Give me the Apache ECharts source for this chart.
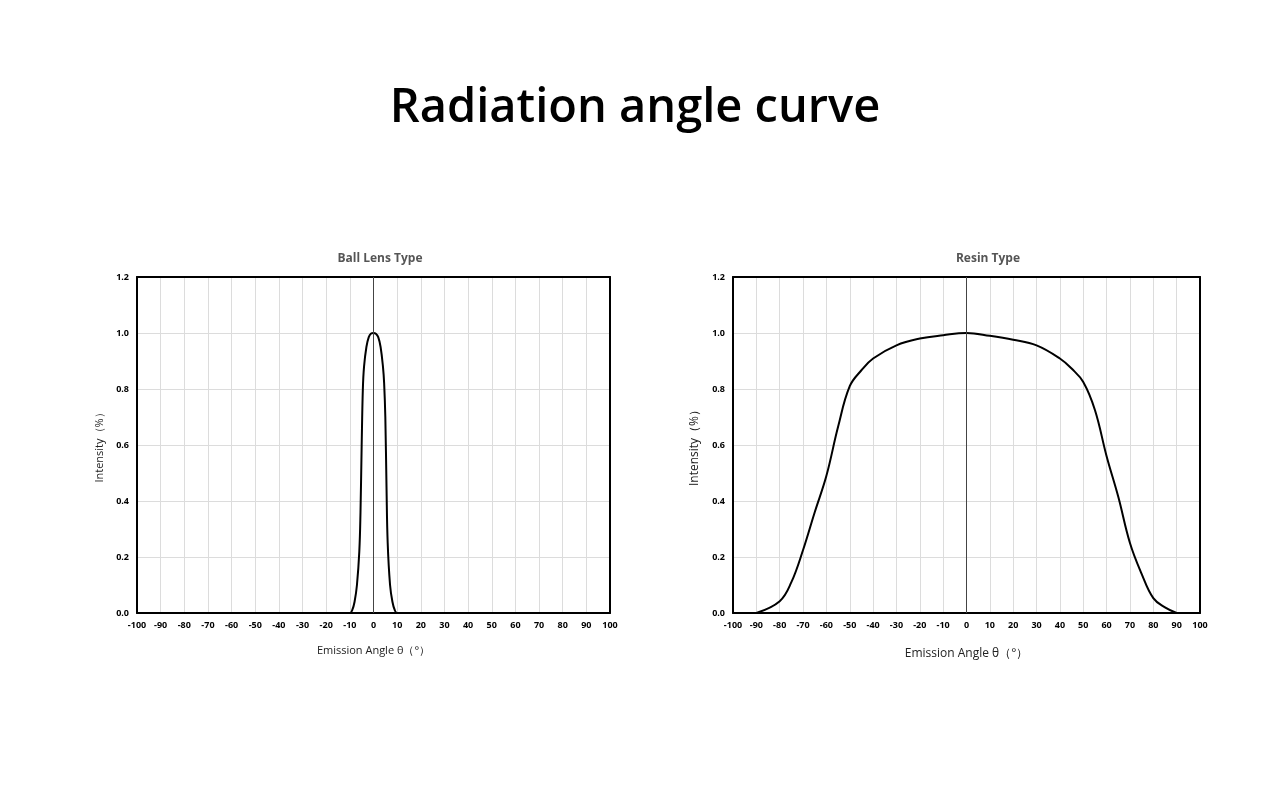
<!DOCTYPE html>
<html>
<head>
<meta charset="utf-8">
<script src="https://cdn.jsdelivr.net/npm/echarts@6/dist/echarts.min.js"></script>
<style>html,body{margin:0;padding:0;background:#fff}#c{width:1280px;height:800px}</style>
</head>
<body>
<div id="c"></div>
<script>
// Ball Lens Type data: [angle, intensity]
const ballAngles = [-100, -10, -9, -8, -7, -6, -5.5, -5, -4.5, -4, -3, -2, -1, 0, 1, 2, 3, 4, 4.5, 5, 5.5, 6, 7, 8, 9, 10, 100];
const ballValues = [0, 0, 0.01, 0.04, 0.1, 0.22, 0.36, 0.6, 0.8, 0.88, 0.95, 0.985, 0.998, 1.0, 0.997, 0.985, 0.95, 0.88, 0.82, 0.7, 0.45, 0.25, 0.1, 0.04, 0.01, 0, 0];
// Resin Type data
const resinAngles = [-90, -80, -75, -70, -65, -60, -55, -50, -45, -40, -30, -20, -10, 0, 10, 20, 30, 40, 45, 50, 55, 60, 65, 70, 75, 80, 85, 90];
const resinValues = [0, 0.042, 0.11, 0.225, 0.36, 0.49, 0.665, 0.81, 0.867, 0.909, 0.956, 0.98, 0.992, 1.0, 0.99, 0.976, 0.956, 0.909, 0.873, 0.825, 0.725, 0.56, 0.415, 0.25, 0.14, 0.053, 0.02, 0];
const xTickMin = -100, xTickMax = 100, xTickStep = 10;
const yTickMin = 0, yTickMax = 1.2, yTickStep = 0.2;

const pair = (xs, ys) => xs.map((x, i) => [x, ys[i]]);
const frameLine = {show: true, onZero: false, lineStyle: {color: '#000', width: 2}};

function xAxisFor(idx, nameSize, gap) {
  return {
    type: 'value', gridIndex: idx, min: xTickMin, max: xTickMax, interval: xTickStep,
    name: 'Emission Angle θ（°）', nameLocation: 'middle', nameGap: gap,
    nameTextStyle: {fontFamily: 'Open Sans', fontSize: nameSize, color: '#222'},
    axisLine: frameLine, axisTick: {show: false},
    axisLabel: {fontFamily: 'Open Sans', fontWeight: 'bold', fontSize: 9, color: '#000', margin: 8},
    splitLine: {show: true, lineStyle: {color: '#dcdcdc', width: 1}}
  };
}
function xFrameTop(idx) {
  return {type: 'value', gridIndex: idx, position: 'top', min: xTickMin, max: xTickMax,
    axisLine: frameLine, axisTick: {show: false}, axisLabel: {show: false}, splitLine: {show: false}};
}
function yAxisFor(idx, nameSize, gap) {
  return {
    type: 'value', gridIndex: idx, min: yTickMin, max: yTickMax, interval: yTickStep,
    name: 'Intensity（%）', nameLocation: 'middle', nameGap: gap,
    nameTextStyle: {fontFamily: 'Open Sans', fontSize: nameSize, color: '#222'},
    axisLine: frameLine, axisTick: {show: false},
    axisLabel: {fontFamily: 'Open Sans', fontWeight: 'bold', fontSize: 9, color: '#000', margin: 8,
      formatter: v => v.toFixed(1)},
    splitLine: {show: true, lineStyle: {color: '#dcdcdc', width: 1}}
  };
}
function yFrameRight(idx) {
  return {type: 'value', gridIndex: idx, position: 'right', min: yTickMin, max: yTickMax,
    axisLine: frameLine, axisTick: {show: false}, axisLabel: {show: false}, splitLine: {show: false}};
}
function seriesFor(idx, data) {
  return {
    type: 'line', xAxisIndex: idx, yAxisIndex: idx, data: data, smooth: 0.4,
    showSymbol: false, lineStyle: {color: '#000', width: 2}, z: 3,
    markLine: {silent: true, symbol: 'none', label: {show: false},
      lineStyle: {color: '#444', width: 1, type: 'solid'}, data: [{xAxis: 0}]}
  };
}

const chart = echarts.init(document.getElementById('c'));
chart.setOption({
  backgroundColor: '#fff',
  animation: false,
  title: [
    {text: 'Radiation angle curve', left: 630, top: 80, textAlign: 'center',
      textStyle: {fontFamily: 'Open Sans', fontSize: 47, fontWeight: 600, color: '#000'}},
    {text: 'Ball Lens Type', left: 375, top: 248, textAlign: 'center',
      textStyle: {fontFamily: 'Open Sans', fontSize: 12, fontWeight: 'bold', color: '#555'}},
    {text: 'Resin Type', left: 983, top: 248, textAlign: 'center',
      textStyle: {fontFamily: 'Open Sans', fontSize: 12, fontWeight: 'bold', color: '#555'}}
  ],
  grid: [
    {left: 137, right: 670, top: 277, bottom: 187},
    {left: 733, right: 80, top: 277, bottom: 187}
  ],
  xAxis: [xAxisFor(0, 11, 32), xAxisFor(1, 12, 35), xFrameTop(0), xFrameTop(1)],
  yAxis: [yAxisFor(0, 11, 32), yAxisFor(1, 12, 32), yFrameRight(0), yFrameRight(1)],
  series: [seriesFor(0, pair(ballAngles, ballValues)), seriesFor(1, pair(resinAngles, resinValues))]
});
</script>
</body>
</html>
